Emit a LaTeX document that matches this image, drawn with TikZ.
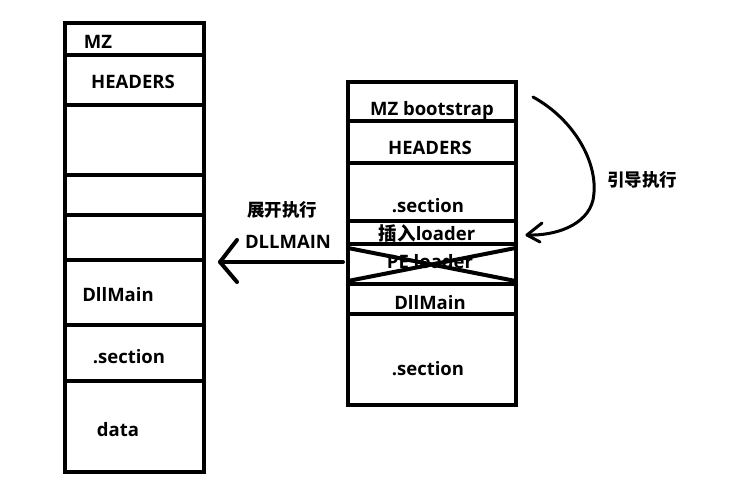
\documentclass[tikz,border=0pt]{standalone}
\usepackage{fontspec}
\setmainfont{Open Sans}
\newfontfamily\cjk{Noto Sans CJK SC}
\begin{document}
\begin{tikzpicture}[x=1pt,y=-1pt,
  cell/.style={draw,line width=4pt,rectangle,inner sep=0pt,outer sep=0pt},
  lcell/.style={cell,minimum width=139pt},
  rcell/.style={cell,minimum width=167.5pt},
  txt/.style={inner sep=0pt,font=\fontsize{18.5}{20}\selectfont\bfseries},
  ctxt/.style={inner sep=0pt,font=\fontsize{17.5}{20}\selectfont\cjk\bfseries},
  thick line/.style={line width=4pt,line cap=round,line join=round},
  curve line/.style={line width=3pt,line cap=round,line join=round}]
\useasboundingbox (0,0) rectangle (756,485);
% left column
\node[lcell,minimum height=32pt]   (l1) at (134,39) {};
\node[lcell,minimum height=49.5pt] (l2) at (134,79.75) {};
\node[lcell,minimum height=70pt]   (l3) at (134,139.5) {};
\node[lcell,minimum height=40.5pt] (l4) at (134,194.75) {};
\node[lcell,minimum height=44.5pt] (l5) at (134,237.25) {};
\node[lcell,minimum height=65pt]   (l6) at (134,292) {};
\node[lcell,minimum height=56pt]   (l7) at (134,352.5) {};
\node[lcell,minimum height=91.5pt] (l8) at (134,426.25) {};
\node[txt] (tl1) at (98,42) {MZ};
\node[txt] (tl2) at (133,82) {HEADERS};
\node[txt] (tl6) at (118,295) {DllMain};
\node[txt] (tl7) at (129,357) {.section};
\node[txt] (tl8) at (118,430) {data};
% right column
\node[rcell,minimum height=39pt]   (r1) at (431.75,101.5) {};
\node[rcell,minimum height=42pt]   (r2) at (431.75,142) {};
\node[rcell,minimum height=57.5pt] (r3) at (431.75,191.75) {};
\node[rcell,minimum height=23.5pt] (r4) at (431.75,232.25) {};
\node[rcell,minimum height=40pt]   (r5) at (431.75,264) {};
\node[rcell,minimum height=30pt]   (r6) at (431.75,299) {};
\node[rcell,minimum height=91pt]   (r7) at (431.75,359.5) {};
\node[txt] (tr1) at (432,110.5) {MZ bootstrap};
\node[txt] (tr2) at (430,148) {HEADERS};
\node[txt] (tr3) at (428,206) {.section};
\node[txt] (tr4) at (427,233) {{\cjk 插入}loader};
\node[txt] (tr5) at (430,262) {PE loader};
\node[txt] (tr6) at (430,302.5) {DllMain};
\node[txt] (tr7) at (428,369) {.section};
% cross over PE loader
\draw[thick line] ([yshift=-4pt]r5.north west) -- ([yshift=3pt]r5.south east);
\draw[thick line] ([yshift=3pt]r5.south west) -- ([yshift=-4pt]r5.north east);
% left arrow
\coordinate (atip) at (220,262);
\draw[thick line] ([xshift=-5pt,yshift=2pt]r5.west) -- (atip);
\draw[thick line] ([shift={(17,-22)}]atip) -- (atip) -- ([shift={(17,20)}]atip);
\node[ctxt] (lab1) at (282,210) {展开执行};
\node[txt] (lab2) at (288,242) {DLLMAIN};
% curved arrow
\coordinate (cstart) at ([shift={(17.5,15)}]r1.north east);
\coordinate (ctip) at ([shift={(11.5,14.5)}]r4.north east);
\draw[curve line] (cstart) .. controls (575,120) and (600,165) .. (593,200)
  .. controls (587,225) and (556,236) .. (ctip);
\draw[curve line] ([shift={(15,-12)}]ctip) -- (ctip) -- ([shift={(13,7)}]ctip);
\node[ctxt] (lab3) at (642,180) {引导执行};
\end{tikzpicture}
\end{document}
